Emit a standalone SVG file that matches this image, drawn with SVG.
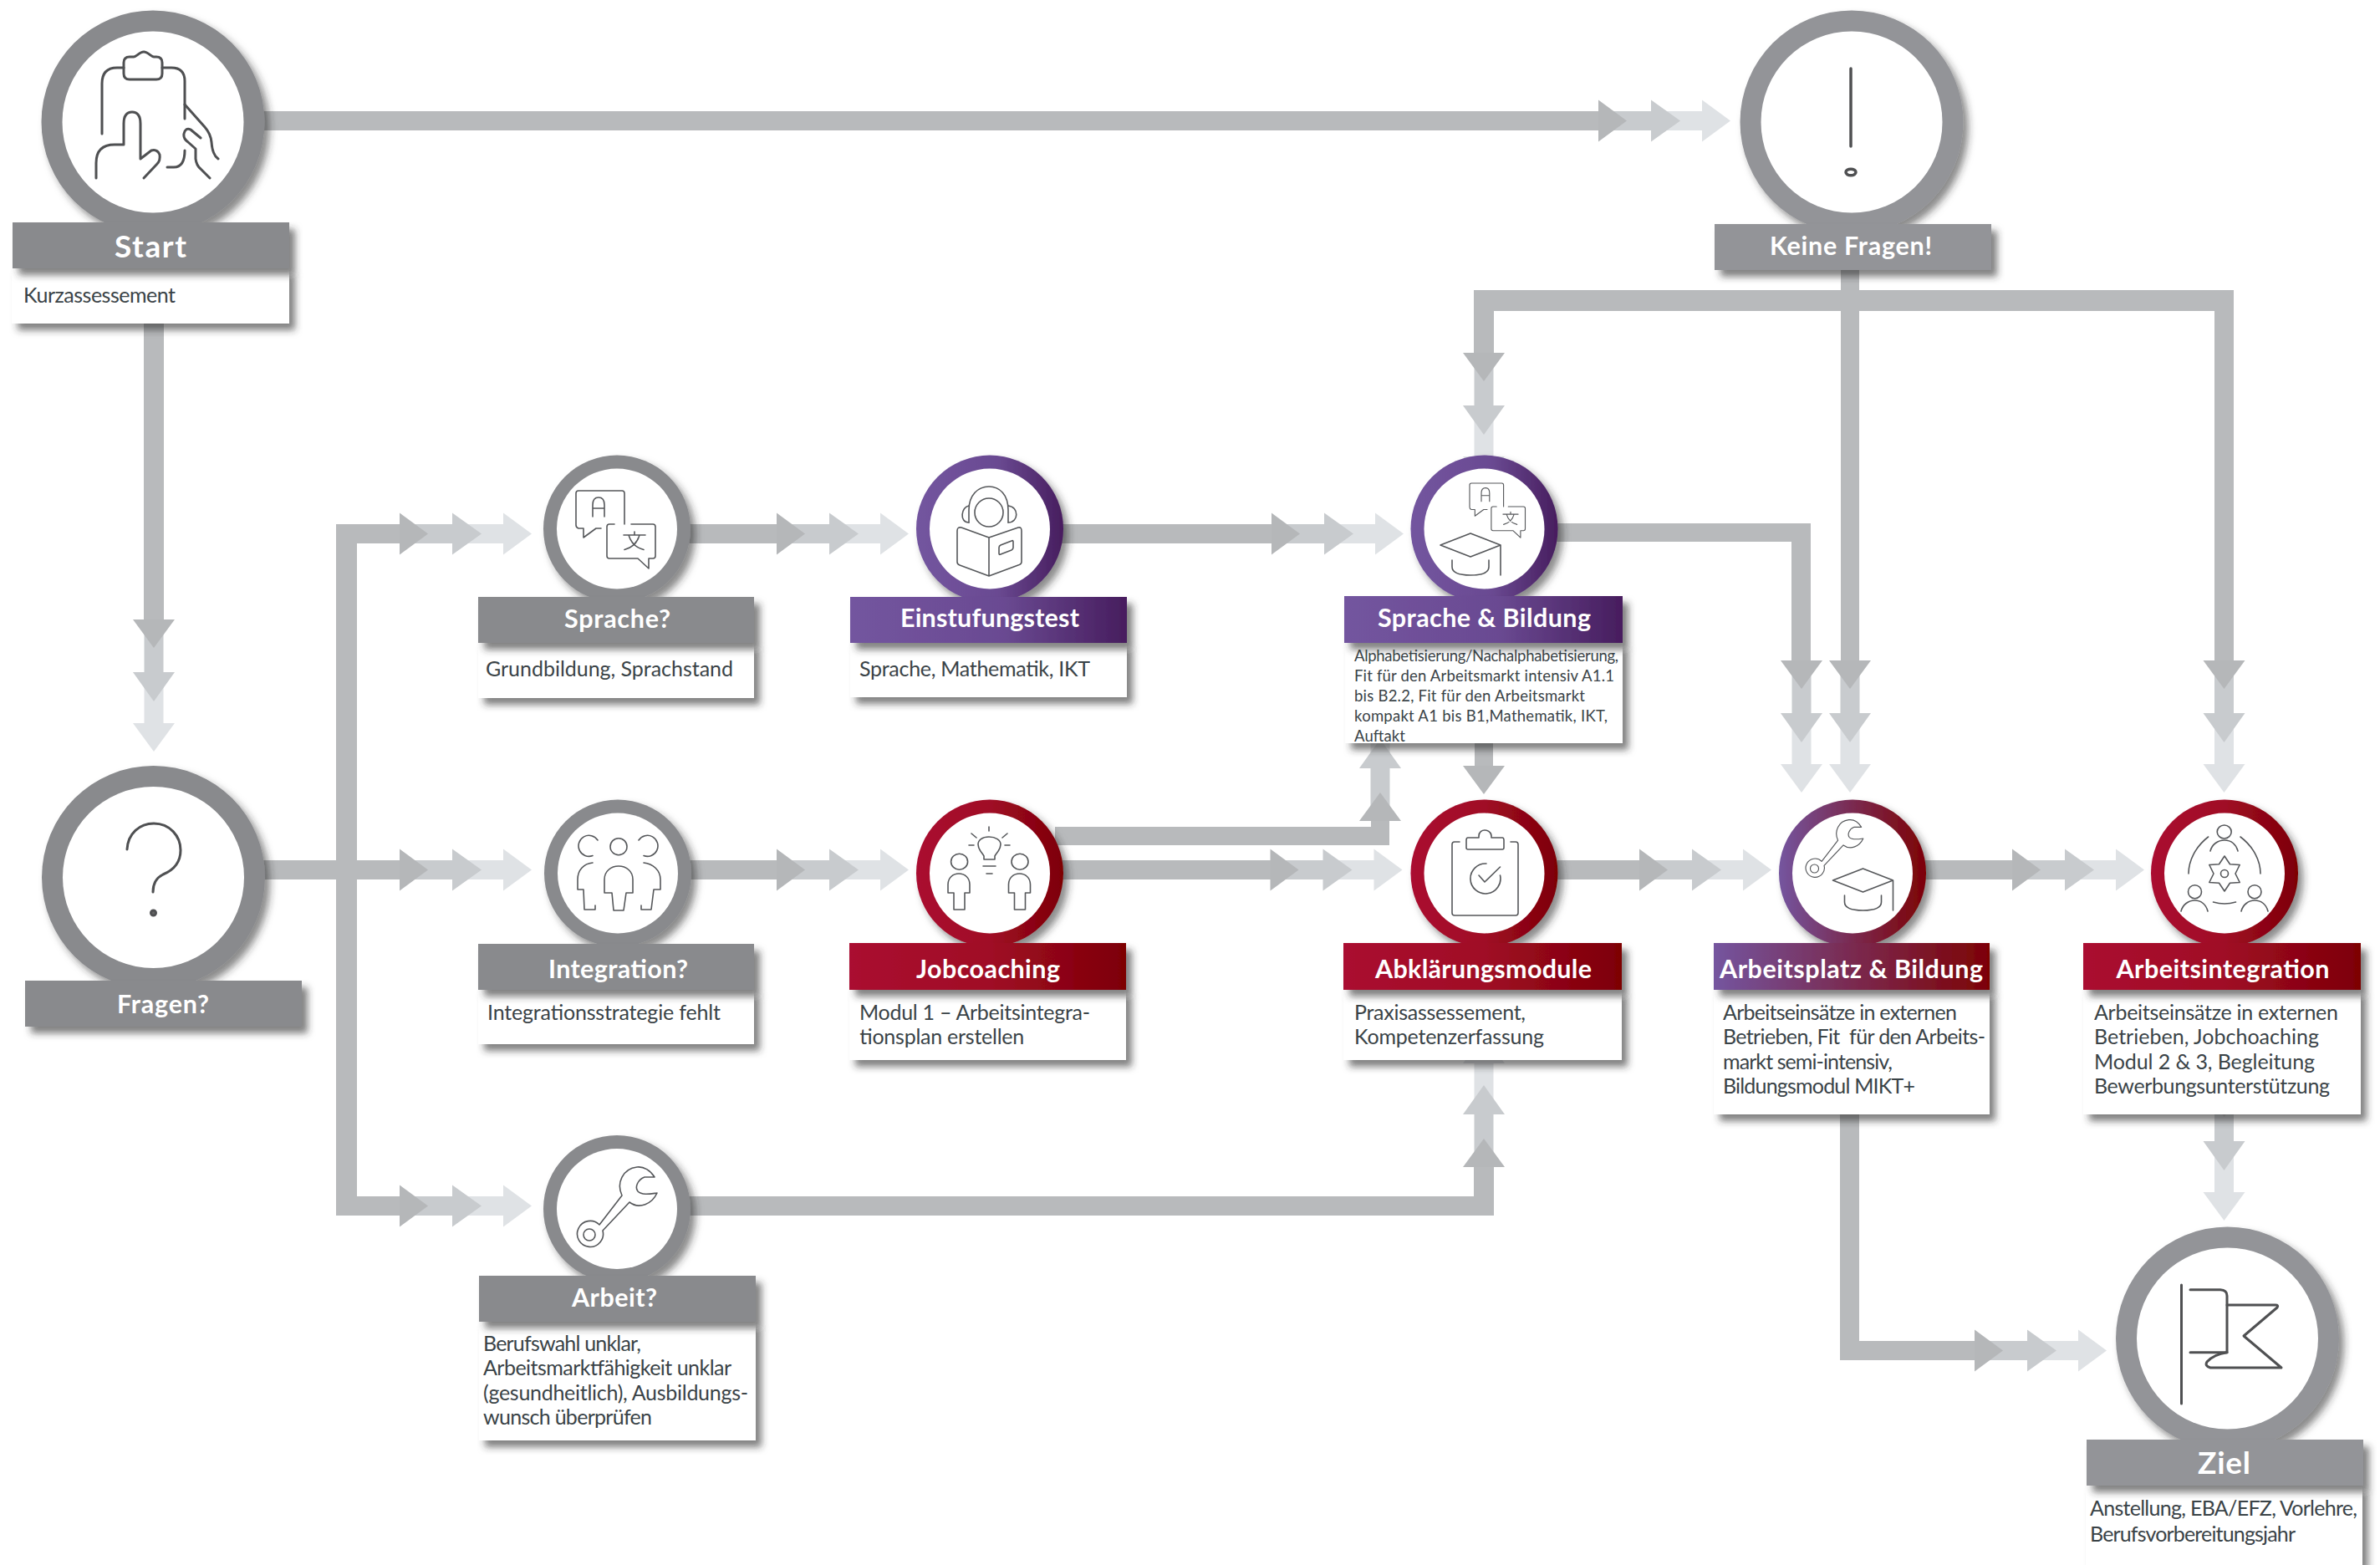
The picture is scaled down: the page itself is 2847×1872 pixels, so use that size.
<svg xmlns="http://www.w3.org/2000/svg" xmlns:xlink="http://www.w3.org/1999/xlink" width="2847" height="1872" viewBox="0 0 2847 1872">
<style>
.t{font-family:Lato,"Noto Sans","Liberation Sans",sans-serif;font-weight:700;font-size:30.5px;fill:#fff;transform:translateY(1.5px)}
.T{font-size:37px}
.b{font-family:Lato,"Noto Sans","Liberation Sans",sans-serif;font-weight:400;font-size:25px;fill:#3a4347;transform:translateY(1px)}
.s{font-size:18.5px}
.i{fill:none;stroke:#55575a;stroke-width:1.6;stroke-linejoin:round;stroke-linecap:round;vector-effect:non-scaling-stroke}
.I{fill:none;stroke:#4f5052;stroke-width:3;stroke-linejoin:round;stroke-linecap:round}
.band{fill:#b8babc}
.g1{fill:#898a8d}
.g2{fill:#939498}
.w{fill:#fff}
</style>
<defs>
<linearGradient id="pur"><stop offset="0" stop-color="#73559f"/><stop offset=".55" stop-color="#6a4a92"/><stop offset="1" stop-color="#471d5e"/></linearGradient>
<linearGradient id="red"><stop offset="0" stop-color="#aa0b30"/><stop offset=".5" stop-color="#a00a26"/><stop offset="1" stop-color="#7d0205"/></linearGradient>
<linearGradient id="mix"><stop offset="0" stop-color="#74559f"/><stop offset=".5" stop-color="#7a2a50"/><stop offset="1" stop-color="#7d0205"/></linearGradient>
<filter id="sh" x="-15%" y="-15%" width="135%" height="135%"><feDropShadow dx="6" dy="7" stdDeviation="5" flood-color="#2a2a2a" flood-opacity=".55"/></filter>
<filter id="shb" x="-5%" y="-30%" width="112%" height="170%"><feDropShadow dx="7" dy="8" stdDeviation="4" flood-color="#2a2a2a" flood-opacity=".6"/></filter>
<g id="tri">
<rect x="-150" y="-11.5" width="60" height="23" fill="#c8cbce"/>
<rect x="-90" y="-11.5" width="60" height="23" fill="#dfe2e5"/>
<polygon points="-34,-25 0,0 -34,25" fill="#dfe2e5"/>
<polygon points="-95,-25 -60,0 -95,25" fill="#c8cbce"/>
<polygon points="-158,-25 -124,0 -158,25" fill="#b5b7b9"/>
</g>
<g id="bubbles" class="i">
<path d="M747 627V590Q747 587 744 587H692Q689 587 689 590V628Q689 631 692 632H698V643L713 632H719"/>
<path d="M709 618V604Q709 595 716 595Q723 595 723 604V618M709 608H723"/>
<path d="M735 627H729Q726 627 726 630V665Q726 668 729 668H763L776 680V668H781Q784 668 784 665V630Q784 627 781 627H755"/>
<path d="M759 636V640M746 640H772M752 640Q756 654 770 657.5M765 640Q761 654 747 657.5"/>
</g>
<g id="wrench" class="i">
<path d="M744 1430C737 1415 745 1398 762 1396C770 1395 778 1400 783 1408L771 1408C763 1411 759 1420 763 1425C768 1430 778 1428 786 1427C780 1440 765 1447 753 1438L721 1472A15.5 15.5 0 1 1 717 1465Z"/>
<circle cx="705" cy="1477" r="7"/>
</g>
<g id="cap" class="i">
<path d="M1723 652L1759 638L1795 652L1759 666ZM1795 652V688M1737 670V678Q1737 688 1759 688Q1781 688 1781 678V670"/>
</g>
</defs>

<g id="connectors">
<rect class="band" x="300" y="133" width="1625" height="23"/><use href="#tri" transform="translate(2070,144.5)"/>
<rect class="band" x="172" y="380" width="24" height="375"/><use href="#tri" transform="translate(184,899) rotate(90)"/>
<rect class="band" x="300" y="1029" width="200" height="23"/><use href="#tri" transform="translate(636,1040.5)"/>
<path class="band" d="M500 627H402V1454H500V1431H427V650H500Z"/>
<use href="#tri" transform="translate(636,638.5)"/><use href="#tri" transform="translate(636,1442.5)"/>
<rect class="band" x="810" y="627" width="130" height="23"/><use href="#tri" transform="translate(1087,638.5)"/>
<rect class="band" x="810" y="1029" width="130" height="23"/><use href="#tri" transform="translate(1087,1040.5)"/>
<rect class="band" x="1260" y="627" width="270" height="23"/><use href="#tri" transform="translate(1679,638.5)"/>
<path class="band" d="M1850 626H2166V800H2143V648H1850Z"/><use href="#tri" transform="translate(2155,948) rotate(90)"/>
<rect class="band" x="2202" y="300" width="22" height="500"/><use href="#tri" transform="translate(2213,948) rotate(90)"/>
<path class="band" d="M1763 440V347H2672V800H2649V372H1787V440Z"/>
<use href="#tri" transform="translate(1775,580) rotate(90)"/><use href="#tri" transform="translate(2660.5,948) rotate(90)"/>
<rect class="band" x="1764" y="880" width="22" height="40"/><polygon points="1750,916 1775,950 1800,916" fill="#b5b7b9"/>
<path class="band" d="M1262 989H1640V975H1662V1011H1262Z"/><use href="#tri" transform="translate(1651,824) rotate(-90)"/>
<rect class="band" x="1260" y="1029" width="280" height="23"/><use href="#tri" transform="translate(1677.5,1040.5)"/>
<rect class="band" x="1850" y="1029" width="130" height="23"/><use href="#tri" transform="translate(2119,1040.5)"/>
<rect class="band" x="2290" y="1029" width="130" height="23"/><use href="#tri" transform="translate(2565,1040.5)"/>
<rect class="band" x="2649" y="1320" width="23" height="60"/><use href="#tri" transform="translate(2660.5,1460) rotate(90)"/>
<path class="band" d="M2201 1320H2224V1604H2380V1627H2201Z"/><use href="#tri" transform="translate(2520,1615.5)"/>
<path class="band" d="M810 1431H1763V1380H1787V1454H810Z"/><use href="#tri" transform="translate(1775,1238) rotate(-90)"/>
</g>

<g id="node-start">
<circle cx="183" cy="146" r="133.5" class="g1" filter="url(#sh)"/><circle cx="183" cy="146" r="108.5" class="w"/>
<g class="I"><path d="M122 160V100Q122 81 140 81H148M194 81H205Q221 81 221 97V142"/>
<path d="M155 68H160C163 68 167 62 172 62S181 68 184 68H187Q194 68 194 75V88Q194 95 187 95H155Q148 95 148 88V75Q148 68 155 68Z"/>
<path d="M115 213V195Q115 173 137 173H148V148Q148 134 158 134Q168 134 168 148V190L181 180Q188 178 191 185Q192 192 188 196L172 213"/>
<path d="M200 200H208Q221 200 221 180M221 125L245 152Q252 160 253 170Q254 185 261 190M240 165L228 155Q222 152 220 160Q219 166 225 170L234 178V190Q235 198 240 202L251 213"/></g>
<rect x="14" y="321" width="332" height="66" class="w" filter="url(#shb)"/>
<rect x="15" y="266" width="331" height="55" class="g1" filter="url(#shb)"/>
<text class="t T" x="137" y="306" textLength="86">Start</text>
<text class="b" x="28" y="361" textLength="182">Kurzassessement</text>
</g>

<g id="node-keine-fragen">
<circle cx="2215" cy="146" r="133.5" class="g2" filter="url(#sh)"/><circle cx="2215" cy="146" r="108.5" class="w"/>
<path d="M2214 82V175" class="I" style="stroke-width:3.5"/><ellipse cx="2214" cy="206" rx="6" ry="3.8" fill="none" stroke="#4f5052" stroke-width="3.5"/>
<rect x="2051" y="268" width="331" height="55" class="g2" filter="url(#shb)"/>
<text class="t" x="2117" y="303" textLength="194">Keine Fragen!</text>
</g>

<g id="node-fragen">
<circle cx="183.5" cy="1049.5" r="133.5" class="g1" filter="url(#sh)"/><circle cx="183.5" cy="1049.5" r="108.5" class="w"/>
<path class="I" d="M152 1016C153 997 167 985 184 985C203 985 216 1000 216 1017C216 1032 207 1041 195 1046C187 1050 183 1057 183 1067"/>
<circle cx="183.5" cy="1092" r="3" fill="#666" stroke="#4f5052" stroke-width="3"/>
<rect x="30" y="1173" width="331" height="55" class="g1" filter="url(#shb)"/>
<text class="t" x="140" y="1210" textLength="110">Fragen?</text>
</g>

<g id="node-sprache">
<circle cx="738" cy="632.5" r="88" class="g1" filter="url(#sh)"/><circle cx="738" cy="632.5" r="72" class="w"/>
<use href="#bubbles"/>
<rect x="572" y="769" width="330" height="66" class="w" filter="url(#shb)"/>
<rect x="572" y="714" width="330" height="55" class="g1" filter="url(#shb)"/>
<text class="t" x="675" y="749" textLength="127">Sprache?</text>
<text class="b" x="581" y="808" textLength="296">Grundbildung, Sprachstand</text>
</g>

<g id="node-integration">
<circle cx="739" cy="1044.5" r="88" class="g1" filter="url(#sh)"/><circle cx="739" cy="1044.5" r="72" class="w"/>
<g class="i"><circle cx="740" cy="1012.7" r="10"/>
<path d="M734 1089L732 1068H723V1052C723 1042 731 1036 740 1036C749 1036 757 1042 757 1052V1068H749L746 1089Z"/>
<path d="M715 1005A12.5 12.5 0 1 0 709 1023.5M709 1032C698 1033 691 1041 691 1052V1064H698L699 1088H712V1083"/>
<path d="M764 1005A12.5 12.5 0 1 1 770 1023.5M770 1032C781 1033 790 1041 790 1052V1064H782L779 1088H767V1083"/></g>
<rect x="572" y="1184" width="330" height="65" class="w" filter="url(#shb)"/>
<rect x="572" y="1129" width="330" height="55" class="g1" filter="url(#shb)"/>
<text class="t" x="656" y="1168" textLength="167">Integration?</text>
<text class="b" x="583" y="1219" textLength="279">Integrationsstrategie fehlt</text>
</g>

<g id="node-arbeit">
<circle cx="738" cy="1446" r="88" class="g1" filter="url(#sh)"/><circle cx="738" cy="1446" r="72" class="w"/>
<use href="#wrench"/>
<rect x="573" y="1581" width="331" height="142" class="w" filter="url(#shb)"/>
<rect x="573" y="1526" width="331" height="55" class="g1" filter="url(#shb)"/>
<text class="t" x="684" y="1561" textLength="102">Arbeit?</text>
<text class="b" x="578" y="1615" textLength="189">Berufswahl unklar,</text>
<text class="b" x="578" y="1644" textLength="297">Arbeitsmarktfähigkeit unklar</text>
<text class="b" x="578" y="1674" textLength="317">(gesundheitlich), Ausbildungs-</text>
<text class="b" x="578" y="1703" textLength="202">wunsch überprüfen</text>
</g>

<g id="node-einstufungstest">
<circle cx="1184" cy="632.5" r="88" fill="url(#pur)" filter="url(#sh)"/><circle cx="1184" cy="632.5" r="72" class="w"/>
<g class="i"><path d="M1159 625V610C1159 592 1170 582 1183 582C1196 582 1206 592 1206 610V625"/><circle cx="1183" cy="613" r="17"/>
<path d="M1159 605C1150 606 1147 625 1159 625M1206 605C1219 606 1219 625 1206 625"/>
<path d="M1183 643L1150 631Q1145 630 1145 635V672Q1145 675 1148 676L1183 689L1218 676Q1222 675 1222 672V635Q1222 630 1218 631ZM1183 643V689"/>
<path d="M1197 652L1210 647Q1212 646 1212 648V655Q1212 657 1210 658L1197 663Q1195 664 1195 662V655Q1195 653 1197 652Z"/></g>
<rect x="1017" y="769" width="331" height="65" class="w" filter="url(#shb)"/>
<rect x="1017" y="714" width="331" height="55" fill="url(#pur)" filter="url(#shb)"/>
<text class="t" x="1077" y="748" textLength="214">Einstufungstest</text>
<text class="b" x="1028" y="808" textLength="276">Sprache, Mathematik, IKT</text>
</g>

<g id="node-sprache-bildung">
<circle cx="1775.5" cy="632.5" r="88" fill="url(#pur)" filter="url(#sh)"/><circle cx="1775.5" cy="632.5" r="72" class="w"/>
<use href="#bubbles" transform="translate(1758,578) scale(.7) translate(-689,-587)"/>
<use href="#cap"/>
<rect x="1609" y="769" width="332" height="120" class="w" filter="url(#shb)"/>
<rect x="1608" y="713" width="333" height="56" fill="url(#pur)" filter="url(#shb)"/>
<text class="t" x="1648" y="748" textLength="255">Sprache &amp; Bildung</text>
<text class="b s" x="1620" y="790" textLength="316">Alphabetisierung/Nachalphabetisierung,</text>
<text class="b s" x="1620" y="814" textLength="311">Fit für den Arbeitsmarkt intensiv A1.1</text>
<text class="b s" x="1620" y="838" textLength="276">bis B2.2, Fit für den Arbeitsmarkt</text>
<text class="b s" x="1620" y="862" textLength="303">kompakt A1 bis B1,Mathematik, IKT,</text>
<text class="b s" x="1620" y="886" textLength="61">Auftakt</text>
</g>

<g id="node-jobcoaching">
<circle cx="1184" cy="1044.5" r="88" fill="url(#red)" filter="url(#sh)"/><circle cx="1184" cy="1044.5" r="72" class="w"/>
<g class="i"><path d="M1177 1028V1024C1174 1019 1170 1016 1170 1010C1170 1005 1175 1001 1183 1001C1191 1001 1197 1005 1197 1010C1197 1016 1193 1019 1190 1024V1028Z"/>
<path d="M1183 989V994M1162 997L1168 1002M1205 997L1199 1002M1159 1011H1165M1202 1011H1208M1176 1036H1191M1180 1045H1187"/>
<ellipse cx="1147.6" cy="1030.7" rx="10" ry="9.5"/><ellipse cx="1220" cy="1030.7" rx="10" ry="9.5"/>
<path d="M1141 1088V1068H1134V1058C1134 1050 1140 1045 1147 1045C1154 1045 1160 1050 1160 1058V1068H1154V1088Z"/>
<path d="M1213.500 1088V1068H1206.500V1058C1206.500 1050 1212.500 1045 1219.500 1045C1226.500 1045 1232.500 1050 1232.500 1058V1068H1226.500V1088Z"/></g>
<rect x="1016" y="1184" width="331" height="84" class="w" filter="url(#shb)"/>
<rect x="1016" y="1128" width="331" height="56" fill="url(#red)" filter="url(#shb)"/>
<text class="t" x="1096" y="1168" textLength="172">Jobcoaching</text>
<text class="b" x="1028" y="1219" textLength="276">Modul 1 – Arbeitsintegra-</text>
<text class="b" x="1028" y="1248" textLength="197">tionsplan erstellen</text>
</g>

<g id="node-abklaerung">
<circle cx="1775.500" cy="1044.5" r="88" fill="url(#red)" filter="url(#sh)"/><circle cx="1775.500" cy="1044.5" r="72" class="w"/>
<g class="i"><path d="M1746 1007H1740Q1737 1007 1737 1010V1092Q1737 1095 1740 1095H1813Q1816 1095 1816 1092V1010Q1816 1007 1813 1007H1807"/>
<path d="M1756 1016Q1754 1016 1754 1014V1005Q1754 1002 1756 1002H1769V1000C1769 995 1773 993 1776 993C1779 993 1784 995 1784 1000V1002H1797Q1799 1002 1799 1005V1014Q1799 1016 1797 1016Z"/>
<path d="M1778 1033A18 18 0 1 0 1794.500 1047M1769 1047L1776 1055L1794.500 1037"/></g>
<rect x="1607" y="1184" width="333" height="84" class="w" filter="url(#shb)"/>
<rect x="1607" y="1128" width="333" height="56" fill="url(#red)" filter="url(#shb)"/>
<text class="t" x="1645" y="1168" textLength="259">Abklärungsmodule</text>
<text class="b" x="1620" y="1219" textLength="205">Praxisassessement,</text>
<text class="b" x="1620" y="1248" textLength="227">Kompetenzerfassung</text>
</g>

<g id="node-arbeitsplatz-bildung">
<circle cx="2216" cy="1044.5" r="88" fill="url(#mix)" filter="url(#sh)"/><circle cx="2216" cy="1044.5" r="72" class="w"/>
<use href="#wrench" transform="translate(2170.5,1039) scale(.72) translate(-705,-1477)"/>
<use href="#cap" transform="translate(469.5,401)"/>
<rect x="2050" y="1184" width="330" height="149" class="w" filter="url(#shb)"/>
<rect x="2050" y="1128" width="330" height="56" fill="url(#mix)" filter="url(#shb)"/>
<text class="t" x="2057" y="1168" textLength="315">Arbeitsplatz &amp; Bildung</text>
<text class="b" x="2061" y="1219" textLength="280">Arbeitseinsätze in externen</text>
<text class="b" x="2061" y="1248" textLength="314" xml:space="preserve">Betrieben, Fit  für den Arbeits-</text>
<text class="b" x="2061" y="1278" textLength="203">markt semi-intensiv,</text>
<text class="b" x="2061" y="1307" textLength="230">Bildungsmodul MIKT+</text>
</g>

<g id="node-arbeitsintegration">
<circle cx="2661" cy="1044.5" r="88" fill="url(#red)" filter="url(#sh)"/><circle cx="2661" cy="1044.5" r="72" class="w"/>
<g class="i"><ellipse cx="2660.700" cy="995" rx="8.500" ry="8"/>
<path d="M2644 1018C2646 1010 2653 1005 2661 1005C2669 1005 2675 1010 2677 1018M2641.600 1001C2626 1013 2618 1030 2618 1045M2680 1001C2696 1013 2704 1030 2704 1045"/>
<path d="M2661 1024L2667.500 1033.700L2679.200 1034.500L2674 1045L2679.200 1055.500L2667.500 1056.300L2661 1066L2654.500 1056.300L2642.800 1055.500L2648 1045L2642.800 1034.500L2654.500 1033.700Z"/>
<circle cx="2661" cy="1045" r="4.500"/>
<circle cx="2625.500" cy="1066.700" r="8"/><circle cx="2697" cy="1066.700" r="8"/>
<path d="M2609 1090C2611 1082 2618 1077 2625.500 1077C2633 1077 2639 1082 2641 1090M2681 1090C2683 1082 2690 1077 2697 1077C2705 1077 2711 1082 2713 1090M2647.500 1079Q2661 1083 2674.500 1079"/></g>
<rect x="2492" y="1184" width="332" height="149" class="w" filter="url(#shb)"/>
<rect x="2492" y="1128" width="332" height="56" fill="url(#red)" filter="url(#shb)"/>
<text class="t" x="2531.5" y="1168" textLength="255">Arbeitsintegration</text>
<text class="b" x="2505" y="1219" textLength="292">Arbeitseinsätze in externen</text>
<text class="b" x="2505" y="1248" textLength="269">Betrieben, Jobchoaching</text>
<text class="b" x="2505" y="1278" textLength="264">Modul 2 &amp; 3, Begleitung</text>
<text class="b" x="2505" y="1307" textLength="282">Bewerbungsunterstützung</text>
</g>

<g id="node-ziel">
<circle cx="2664.5" cy="1601" r="133.5" class="g2" filter="url(#sh)"/><circle cx="2664.5" cy="1601" r="108.5" class="w"/>
<g class="I"><path d="M2609.500 1537V1679"/><path d="M2620 1542.700H2656Q2664 1543 2664 1550V1617.700H2620"/>
<path d="M2664 1561H2722Q2726 1561 2724 1564L2684 1598L2729 1636H2644Q2637 1634 2640 1629Q2648 1620 2664 1617.700"/></g>
<rect x="2495" y="1777" width="331" height="95" class="w" filter="url(#shb)"/>
<rect x="2496" y="1722" width="331" height="55" class="g2" filter="url(#shb)"/>
<text class="t T" x="2629" y="1761" textLength="63">Ziel</text>
<text class="b" x="2500" y="1812" textLength="320">Anstellung, EBA/EFZ, Vorlehre,</text>
<text class="b" x="2500" y="1843" textLength="246">Berufsvorbereitungsjahr</text>
</g>
</svg>
